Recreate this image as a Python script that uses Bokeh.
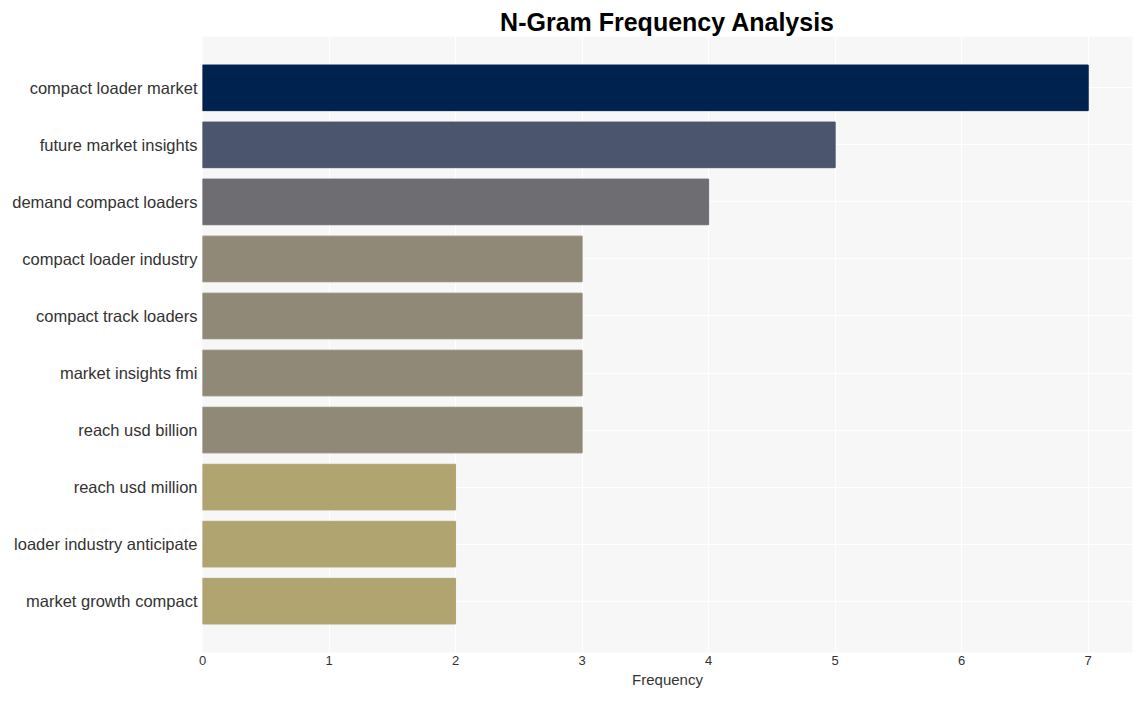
from bokeh.plotting import figure
from bokeh.models import ColumnDataSource, FactorRange
from bokeh.embed import file_html
from bokeh.resources import INLINE

ngrams = ["compact loader market", "future market insights", "demand compact loaders",
          "compact loader industry", "compact track loaders", "market insights fmi",
          "reach usd billion", "reach usd million", "loader industry anticipate",
          "market growth compact"]
counts = [7, 5, 4, 3, 3, 3, 3, 2, 2, 2]
colors = ["#00224e", "#4c556e", "#6e6e72", "#908977", "#908977", "#908977", "#908977",
          "#b0a570", "#b0a570", "#b0a570"]
x_ticks = [0, 1, 2, 3, 4, 5, 6, 7]

src = ColumnDataSource(dict(ngram=ngrams, count=counts, color=colors))

p = figure(width=1142, height=701, output_backend="svg", toolbar_location=None,
           y_range=FactorRange(factors=list(reversed(ngrams)), range_padding=0.08),
           x_range=(0, 7.35),
           title="N-Gram Frequency Analysis",
           min_border_left=202, min_border_right=10, min_border_top=36, min_border_bottom=49)

p.hbar(y="ngram", right="count", left=0, height=0.8, color="color", source=src)

p.title.text_font = "Liberation Sans"
p.title.text_font_size = "25px"
p.title.text_font_style = "bold"
p.title.align = "center"
p.title.text_color = "#000000"
p.title.standoff = 2

p.background_fill_color = "#f7f7f7"
p.border_fill_color = "white"
p.outline_line_color = None
p.xgrid.grid_line_color = "white"
p.ygrid.grid_line_color = "white"
p.xgrid.ticker = x_ticks

p.xaxis.ticker = x_ticks
p.xaxis.axis_label = "Frequency"
p.xaxis.axis_label_text_font = "Liberation Sans"
p.xaxis.axis_label_text_font_size = "15px"
p.xaxis.axis_label_text_font_style = "normal"
p.xaxis.axis_label_text_color = "#333333"
p.xaxis.axis_label_standoff = 3
p.xaxis.major_label_text_font = "Liberation Sans"
p.xaxis.major_label_text_font_size = "13px"
p.xaxis.major_label_text_color = "#333333"

p.yaxis.major_label_text_font = "Liberation Sans"
p.yaxis.major_label_text_font_size = "16.5px"
p.yaxis.major_label_text_color = "#333333"

for ax in (p.xaxis, p.yaxis):
    ax.axis_line_color = None
    ax.major_tick_line_color = None
    ax.minor_tick_line_color = None
    ax.major_tick_out = 0
    ax.major_tick_in = 0
p.xaxis.major_label_standoff = 3
p.yaxis.major_label_standoff = 5

open("out.html", "w").write(file_html(p, INLINE))
